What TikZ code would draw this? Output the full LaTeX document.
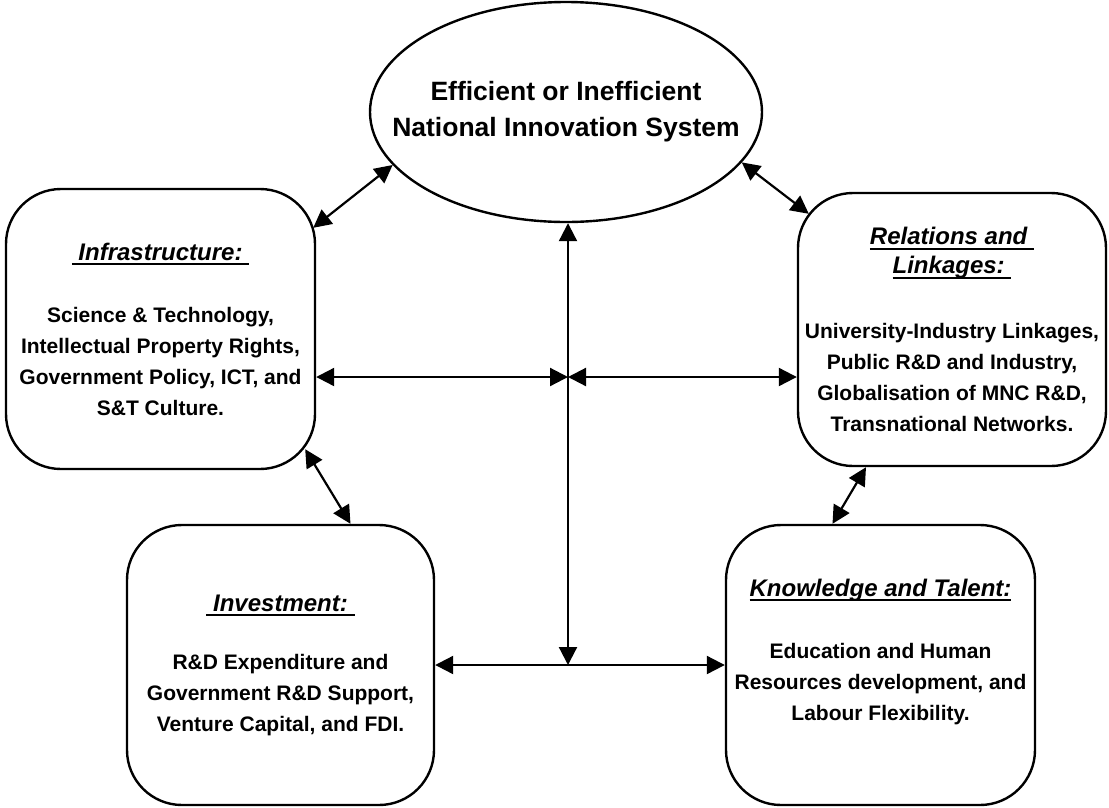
\documentclass[tikz,border=0pt]{standalone}
\usepackage{fontspec}
\setmainfont{Liberation Sans}
\usetikzlibrary{arrows.meta,shapes.geometric}

% underlined heading, rule set at a fixed depth
\newcommand{\headline}[1]{\setbox0\hbox{#1}\rlap{\rule[-5pt]{\wd0}{2pt}}\box0}
\newcommand{\headfont}{\fontsize{24}{29}\selectfont\bfseries\itshape}

\begin{document}
\begin{tikzpicture}[x=1pt, y=-1pt,
    pillar/.style={draw, line width=2.4pt, rounded corners=55pt, inner sep=2pt,
        align=center, font=\bfseries\fontsize{21}{31}\selectfont},
    core/.style={draw, ellipse, line width=2.4pt, inner sep=0pt},
    link/.style={line width=2.2pt,
        {Triangle[length=18pt,width=18pt]}-{Triangle[length=18pt,width=18pt]}}]

    \fill[white] (0,0) rectangle (1109,807);

    % National innovation system
    \node[core, minimum width=392pt, minimum height=220pt] (nis) at (566,112) {};
    \node[font=\bfseries\fontsize{26.5}{36}\selectfont, align=center] (nistext) at (nis.center)
        {Efficient or Inefficient\\National Innovation System};

    % Infrastructure box
    \node[pillar, minimum width=309pt, minimum height=280pt] (infra) at (160.5,329) {
        {\headfont\headline{\ Infrastructure:\ }}\\[31pt]
        Science \& Technology,\\
        Intellectual Property Rights,\\
        Government Policy, ICT, and\\
        S\&T Culture.
    };

    % Relations box
    \node[pillar, minimum width=308pt, minimum height=273pt] (rel) at (952,329.5) {
        {\headfont\headline{Relations and\ }}\\[-2pt]
        {\headfont\headline{Linkages:\ }}\\[34pt]
        University-Industry Linkages,\\
        Public R\&D and Industry,\\
        Globalisation of MNC R\&D,\\
        Transnational Networks.
    };

    % Investment box
    \node[pillar, minimum width=307pt, minimum height=280pt] (inv) at (280.5,665) {
        {\headfont\headline{\ Investment:\ }}\\[27pt]
        R\&D Expenditure and\\
        Government R\&D Support,\\
        Venture Capital, and FDI.
    };

    % Knowledge box
    \node[pillar, minimum width=309pt, minimum height=280pt] (kt) at (880.5,665) {
        {\headfont\headline{Knowledge and Talent:}}\\[31pt]
        Education and Human\\
        Resources development, and\\
        Labour Flexibility.\\
        \mbox{}
    };

    % Arrows
    \coordinate (cross) at (568,377);
    \coordinate (hub) at (cross |- inv.east);
    \draw[link] (cross -| infra.east) -- (cross);
    \draw[link] (cross) -- (cross -| rel.west);
    \draw[link] (hub) -- (hub |- nis.south);
    \draw[link] (inv.east) -- (kt.west);
    \draw[link] (nis.197) -- ([xshift=-3pt,yshift=-40pt]infra.north east);
    \draw[link] (nis.-16) -- ([xshift=12pt,yshift=-22pt]rel.north west);
    \draw[link] ([xshift=-11pt,yshift=21pt]infra.south east) -- ([xshift=70pt]inv.north);
    \draw[link] ([xshift=-86pt]rel.south) -- ([xshift=-48pt]kt.north);
\end{tikzpicture}
\end{document}
